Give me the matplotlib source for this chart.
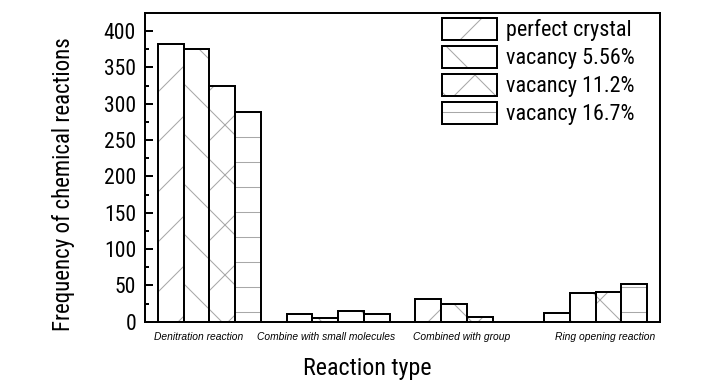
import matplotlib
matplotlib.use("Agg")
import matplotlib.pyplot as plt
from matplotlib.legend_handler import HandlerTuple
import numpy as np

# data
categories = ["Denitration reaction", "Combine with small molecules",
              "Combined with group", "Ring opening reaction"]
series_names = ["perfect crystal", "vacancy 5.56%", "vacancy 11.2%", "vacancy 16.7%"]
perfect = [383, 10, 31, 12]
vac_556 = [376, 5.5, 24, 39]
vac_112 = [324, 15, 6, 41]
vac_167 = [289, 10.5, 0, 52]
label_pos = [-0.085, 0.91, 1.96, 3.07]

plt.rcParams['font.family'] = ['Roboto Condensed', 'Liberation Sans', 'DejaVu Sans']
plt.rcParams['hatch.linewidth'] = 0.5

fig = plt.figure(figsize=(728 / 150, 390 / 150), dpi=150)
ax = fig.add_axes([145 / 728, 1 - 321.7 / 390, 515 / 728, 308.7 / 390])

x = np.arange(len(categories))
w = 0.2
hatches = ['/', '\\', 'x', '-']
all_series = [perfect, vac_556, vac_112, vac_167]
handles = []
for i, (vals, h) in enumerate(zip(all_series, hatches)):
    # grey hatch first, black outline on top
    hb = ax.bar(x + (i - 1.5) * w, vals, w, color='white', edgecolor='#a8a8a8',
                linewidth=0, hatch=h)
    eb = ax.bar(x + (i - 1.5) * w, vals, w, fill=False, edgecolor='black',
                linewidth=0.95)
    handles.append((hb, eb))

ax.set_xlim(-0.5, 3.5)
ax.set_ylim(0, 425)
ax.set_yticks(np.arange(0, 401, 50))
ax.set_yticks(np.arange(25, 401, 50), minor=True)
ax.tick_params(axis='y', which='major', direction='in', length=3.8, width=0.95,
               labelsize=10.4, pad=4.3)
ax.tick_params(axis='y', which='minor', direction='in', length=2, width=0.95)
ax.set_xticks(label_pos)
ax.set_xticklabels(categories, fontstyle='italic', family='Liberation Sans', fontsize=4.9)
ax.tick_params(axis='x', length=0, pad=5)
for s in ax.spines.values():
    s.set_linewidth(0.95)

ax.set_xlabel("Reaction type", fontsize=11.5)
ax.xaxis.set_label_coords(0.431, -0.113)
ax.set_ylabel("Frequency of chemical reactions", fontsize=11)
ax.yaxis.set_label_coords(-0.136, 0.445)

ax.legend(handles, series_names, handler_map={tuple: HandlerTuple(ndivide=1)},
          loc='upper left', bbox_to_anchor=(0.576, 0.985), frameon=False,
          fontsize=10.6, handlelength=2.5, handleheight=1.18, labelspacing=0.2,
          handletextpad=0.43, borderpad=0, borderaxespad=0)

fig.savefig("out.png", dpi=150)
